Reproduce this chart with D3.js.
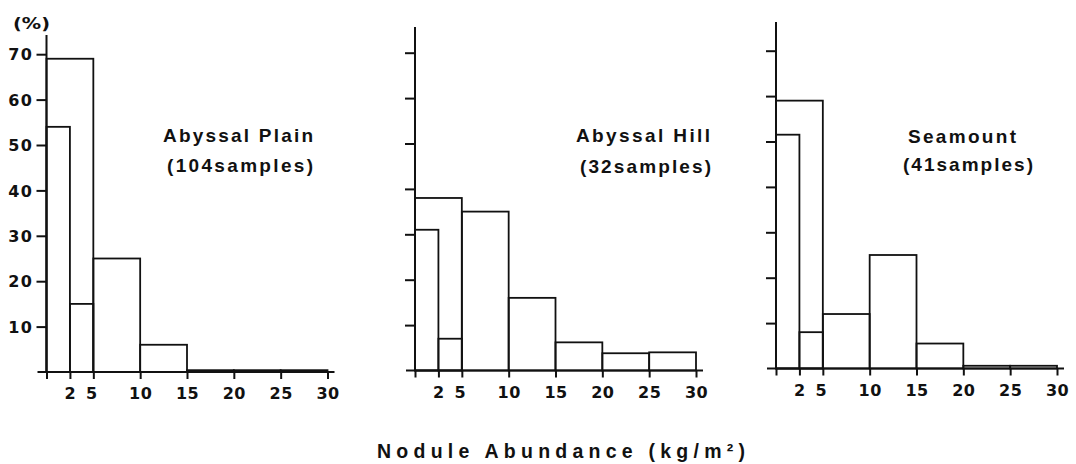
<!DOCTYPE html>
<html>
<head>
<meta charset="utf-8">
<script src="https://cdn.jsdelivr.net/npm/d3@7"></script>
<style>
  html, body { margin: 0; padding: 0; background: #fff; }
  svg { display: block; font-family: "DejaVu Sans", sans-serif; font-weight: bold; }
</style>
</head>
<body>
<svg id="chart" width="1076" height="464"></svg>
<script>
// ---- data ----
const binStarts = [0, 2, 5, 10, 15, 20, 25];
const binEnds   = [2, 5, 10, 15, 20, 25, 30];
const plainValues    = [54, 15, 25, 6, 0.4, 0.4, 0.4];
const hillValues     = [31, 7, 35, 16, 6.2, 3.8, 4];
const seamountValues = [51.5, 8, 12, 25, 5.5, 0.6, 0.6];
const combinedValues = [69, 38, 59];   // 0-5 kg/m2 class for each panel
const panelTitles = ["Abyssal Plain", "Abyssal Hill", "Seamount"];
const panelSamples = ["(104samples)", "(32samples)", "(41samples)"];
const xTicks = [0, 2, 5, 10, 15, 20, 25, 30];
const xTickLabels = ["", "2", "5", "10", "15", "20", "25", "30"];
const yTicks = [10, 20, 30, 40, 50, 60, 70];
const yUnit = "(%)";
const xTitle = "Nodule Abundance (kg/m²)";

// ---- layout ----
const svg = d3.select("#chart");
const ink = "#111";
const panels = [
  {values: plainValues,    x0: 46.5, base: 372,   top: 35, title: [163, 142, 150], sub: [167, 172, 146], yLabels: true},
  {values: hillValues,     x0: 415,  base: 370.5, top: 27, title: [576, 142, 134], sub: [580, 173, 131], yLabels: false},
  {values: seamountValues, x0: 776,  base: 368.5, top: 22, title: [908, 143, 108], sub: [903, 171, 130], yLabels: false}
];
const W = 281;          // width of 0..30 span
const H10 = 45.4;       // px per 10%
const fam = "DejaVu Sans, sans-serif";
const famT = "Liberation Sans, Arial, sans-serif";

panels.forEach((p, i) => {
  const g = svg.append("g");
  const x = d3.scaleLinear().domain([0, 2, 5, 30]).range([p.x0, p.x0 + W / 12, p.x0 + W / 6, p.x0 + W]);
  const y = d3.scaleLinear().domain([0, 70]).range([p.base, p.base - 7 * H10]);

  // bars: combined 0-5 first, then fine bins
  g.append("rect")
    .attr("x", x(0)).attr("y", y(combinedValues[i]))
    .attr("width", x(5) - x(0)).attr("height", y(0) - y(combinedValues[i]))
    .attr("fill", "none").attr("stroke", ink).attr("stroke-width", 1.8);
  g.selectAll("rect.bin").data(p.values).enter().append("rect")
    .attr("class", "bin")
    .attr("x", (d, j) => x(binStarts[j]))
    .attr("y", d => y(d))
    .attr("width", (d, j) => x(binEnds[j]) - x(binStarts[j]))
    .attr("height", d => y(0) - y(d))
    .attr("fill", "none").attr("stroke", ink).attr("stroke-width", 1.8);

  // axis lines
  g.append("line").attr("x1", x(0)).attr("x2", x(0)).attr("y1", y(0)).attr("y2", p.top)
    .attr("stroke", ink).attr("stroke-width", 2);
  g.append("line").attr("x1", x(0) - 9).attr("x2", x(30) + 7).attr("y1", y(0)).attr("y2", y(0))
    .attr("stroke", ink).attr("stroke-width", 2);

  // y ticks
  const ya = g.append("g").attr("transform", `translate(${x(0)},0)`)
    .call(d3.axisLeft(y).tickValues(yTicks).tickSize(10).tickPadding(3)
      .tickFormat(p.yLabels ? d3.format("d") : () => ""));
  ya.select(".domain").remove();
  ya.selectAll("line").attr("stroke", ink).attr("stroke-width", 2);
  ya.selectAll("text").attr("font-family", fam)
    .attr("font-weight", "bold").attr("font-size", 16).attr("fill", ink)
    .attr("letter-spacing", 1.5).attr("dy", "0.36em");

  // x ticks
  const xa = g.append("g").attr("transform", `translate(0,${y(0)})`)
    .call(d3.axisBottom(x).tickValues(xTicks).tickSize(7).tickPadding(9)
      .tickFormat((d, k) => xTickLabels[k]));
  xa.select(".domain").remove();
  xa.selectAll("line").attr("stroke", ink).attr("stroke-width", 2);
  xa.selectAll("text").attr("font-family", fam)
    .attr("font-weight", "bold").attr("font-size", 16).attr("fill", ink)
    .attr("letter-spacing", 0.5).attr("dx", (d) => d === 5 ? -2 : 0);

  // titles
  g.append("text").attr("x", p.title[0]).attr("y", p.title[1])
    .attr("font-family", famT)
    .attr("textLength", p.title[2]).attr("lengthAdjust", "spacing")
    .attr("font-size", 19).attr("fill", ink).text(panelTitles[i]);
  g.append("text").attr("x", p.sub[0]).attr("y", p.sub[1])
    .attr("font-family", famT)
    .attr("textLength", p.sub[2]).attr("lengthAdjust", "spacing")
    .attr("font-size", 19).attr("fill", ink).text(panelSamples[i]);

  if (p.yLabels) {
    g.append("text").attr("x", 13).attr("y", 29)
      .attr("textLength", 37).attr("lengthAdjust", "spacingAndGlyphs")
      .attr("font-size", 16).attr("fill", ink).text(yUnit);
  }
});

svg.append("text").attr("x", 377).attr("y", 458)
  .attr("font-family", famT)
  .attr("textLength", 368).attr("lengthAdjust", "spacing")
  .attr("font-size", 19.5).attr("fill", ink).text(xTitle);
</script>
</body>
</html>
